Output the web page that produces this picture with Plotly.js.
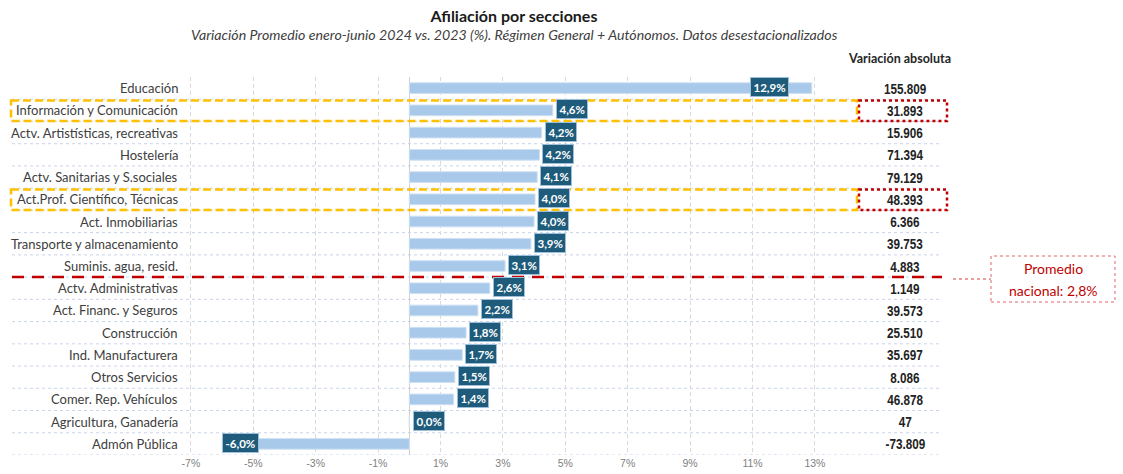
<!DOCTYPE html>
<html><head><meta charset="utf-8">
<script src="https://cdn.plot.ly/plotly-3.0.1.min.js"></script>
<style>html,body{margin:0;padding:0;background:#fff}</style>
</head><body><div id="chart" style="width:1123px;height:474px"></div>
<script>
// ---------- DATA ----------
const categories = [
  'Educación', 'Información y Comunicación', 'Actv. Artistísticas, recreativas', 'Hostelería',
  'Actv. Sanitarias y S.sociales', 'Act.Prof. Científico, Técnicas', 'Act. Inmobiliarias',
  'Transporte y almacenamiento', 'Suminis. agua, resid.', 'Actv. Administrativas',
  'Act. Financ. y Seguros', 'Construcción', 'Ind. Manufacturera', 'Otros Servicios',
  'Comer. Rep. Vehículos', 'Agricultura, Ganadería', 'Admón Pública'
];
const pctChange = [12.9, 4.6, 4.24, 4.17, 4.1, 4.03, 4.0, 3.9, 3.07, 2.58, 2.2, 1.82, 1.7, 1.46, 1.42, 0.0, -6.0];
const absChange = [155809, 31893, 15906, 71394, 79129, 48393, 6366, 39753, 4883, 1149, 39573, 25510, 35697, 8086, 46878, 47, -73809];
const highlighted = ['Información y Comunicación', 'Act.Prof. Científico, Técnicas'];
const xTickVals = [-7, -5, -3, -1, 1, 3, 5, 7, 9, 11, 13];
const nationalAverage = 2.8;
const titleText = 'Afiliación por secciones';
const subtitleText = 'Variación Promedio enero-junio 2024 vs. 2023 (%). Régimen General + Autónomos. Datos desestacionalizados';
const absHeader = 'Variación absoluta';
const avgLines = ['Promedio', 'nacional: 2,8%'];

// ---------- GEOMETRY / STYLE ----------
const W = 1123, H = 474;
const plotL = 11, plotR = 948, plotT = 77, plotB = 455;
const zeroPx = 409.3, pxPerUnit = 31.2;
const px2x = p => (p - plotL) / (plotR - plotL);
const py2y = p => (plotB - p) / (plotB - plotT);
const fontMain = 'Lato, Calibri, "Open Sans", sans-serif';
const fontArial = '"Liberation Sans", Arial, sans-serif';

const fmtPct = v => v.toFixed(1).replace('.', ',') + '%';
const fmtAbs = v => {
  const s = Math.abs(v).toString().replace(/\B(?=(\d{3})+(?!\d))/g, '.');
  return (v < 0 ? '-' : '') + s;
};

const trace = {
  type: 'bar', orientation: 'h', y: categories, x: pctChange,
  marker: {color: '#A8C9EA', line: {color: '#CFE1F4', width: 1}},
  hoverinfo: 'none', showlegend: false
};

const annotations = [];
const shapes = [];
const narrowIdx = [];
const n = categories.length;

categories.forEach((c, i) => {
  annotations.push({xref: 'paper', yref: 'y', x: px2x(180), y: c, xanchor: 'right', yanchor: 'middle',
    text: c, showarrow: false, font: {family: fontMain, size: 13, color: '#404040'}});
  const v = pctChange[i];
  let xanchor = 'left', xshift = 3;
  if (v < 0) { xshift = 0; }
  else if (v > 10) { xanchor = 'right'; xshift = -23; }
  else if (v === 0) { xshift = 4; }
  annotations.push({xref: 'x', yref: 'y', x: v, y: c, xanchor: xanchor, xshift: xshift, yanchor: 'middle', yshift: 1,
    text: '<b>' + fmtPct(v) + '</b>', showarrow: false, bgcolor: '#1F5C7B', bordercolor: '#9EBFDC',
    borderwidth: 1, borderpad: 2.5, font: {family: fontMain, size: 11.5, color: '#ffffff'}});
  narrowIdx.push(annotations.length);
  annotations.push({xref: 'paper', yref: 'y', x: px2x(905), y: c, xanchor: 'center', yanchor: 'middle',
    text: '<b>' + fmtAbs(absChange[i]) + '</b>', showarrow: false, font: {family: fontArial, size: 15, color: '#222222'}});
  shapes.push({type: 'line', xref: 'paper', yref: 'y', x0: px2x(12), x1: px2x(942), y0: i + 0.5, y1: i + 0.5,
    line: {color: '#C8D3EC', width: 1, dash: 'dot'}, layer: 'below'});
});

highlighted.forEach(h => {
  const i = categories.indexOf(h);
  shapes.push({type: 'rect', xref: 'paper', yref: 'y', x0: px2x(11), x1: px2x(857), y0: i - 0.44, y1: i + 0.48,
    line: {color: '#FFC000', width: 2.5, dash: '8px,4px'}});
  shapes.push({type: 'rect', xref: 'paper', yref: 'y', x0: px2x(859), x1: px2x(947), y0: i - 0.44, y1: i + 0.48,
    line: {color: '#C00000', width: 2.5, dash: 'dot'}});
});

const firstBelow = pctChange.findIndex(v => v < nationalAverage);
shapes.push({type: 'line', xref: 'paper', yref: 'y', x0: px2x(12), x1: px2x(942), y0: firstBelow - 0.5, y1: firstBelow - 0.5,
  line: {color: '#C00000', width: 2.5, dash: '12px,8px'}});
shapes.push({type: 'line', xref: 'paper', yref: 'paper', x0: px2x(953), x1: px2x(991), y0: py2y(279), y1: py2y(279),
  line: {color: '#D04040', width: 1, dash: 'dot'}});
shapes.push({type: 'rect', xref: 'paper', yref: 'paper', x0: px2x(991), x1: px2x(1115), y0: py2y(302), y1: py2y(256),
  line: {color: '#E06666', width: 1, dash: 'dot'}});
annotations.push({xref: 'paper', yref: 'paper', x: px2x(1053), y: py2y(268), xanchor: 'center', yanchor: 'middle',
  text: avgLines[0], showarrow: false, font: {family: fontMain, size: 14, color: '#C00000'}});
annotations.push({xref: 'paper', yref: 'paper', x: px2x(1053), y: py2y(290), xanchor: 'center', yanchor: 'middle',
  text: avgLines[1], showarrow: false, font: {family: fontMain, size: 14, color: '#C00000'}});

annotations.push({xref: 'paper', yref: 'paper', x: px2x(899), y: py2y(59), xanchor: 'center', yanchor: 'middle',
  text: '<b>' + absHeader + '</b>', showarrow: false, font: {family: fontMain, size: 12.5, color: '#262626'}});
annotations.push({xref: 'paper', yref: 'paper', x: px2x(514), y: py2y(34), xanchor: 'center', yanchor: 'middle',
  text: '<i>' + subtitleText + '</i>', showarrow: false, font: {family: fontMain, size: 14.2, color: '#404040'}});

const layout = {
  width: W, height: H,
  margin: {l: plotL, r: W - plotR, t: plotT, b: H - plotB, pad: 0},
  paper_bgcolor: '#ffffff', plot_bgcolor: '#ffffff',
  title: {text: '<b>' + titleText + '</b>', x: 514 / W, y: 1 - 16 / H, xref: 'container', yref: 'container',
    xanchor: 'center', yanchor: 'middle', font: {family: fontMain, size: 16, color: '#1a1a1a'}},
  bargap: 0.52,
  xaxis: {
    range: [(plotL - zeroPx) / pxPerUnit, (plotR - zeroPx) / pxPerUnit],
    tickvals: xTickVals, ticktext: xTickVals.map(v => v + '%'),
    showgrid: true, gridcolor: '#D9D9D9', griddash: '4px,3px', gridwidth: 1,
    zeroline: true, zerolinecolor: '#D0D0D0', zerolinewidth: 1,
    showline: false, ticks: '', automargin: false, fixedrange: true,
    tickfont: {family: fontArial, size: 10.5, color: '#808080'}
  },
  yaxis: {
    type: 'category', categoryorder: 'array', categoryarray: categories,
    range: [n - 0.5, -0.5], showticklabels: false, showgrid: false, zeroline: false,
    showline: false, ticks: '', automargin: false, fixedrange: true
  },
  shapes: shapes, annotations: annotations
};

Plotly.newPlot('chart', [trace], layout, {staticPlot: true, displayModeBar: false}).then(gd => {
  // narrow (condensed) rendering of the absolute-variation column
  narrowIdx.forEach(k => {
    const t = gd.querySelector('g.annotation[data-index="' + k + '"] text.annotation-text');
    if (t) {
      t.style.transformBox = 'fill-box';
      t.style.transformOrigin = '50% 50%';
      t.style.transform = 'scaleX(0.78)';
    }
  });
});
</script></body></html>
